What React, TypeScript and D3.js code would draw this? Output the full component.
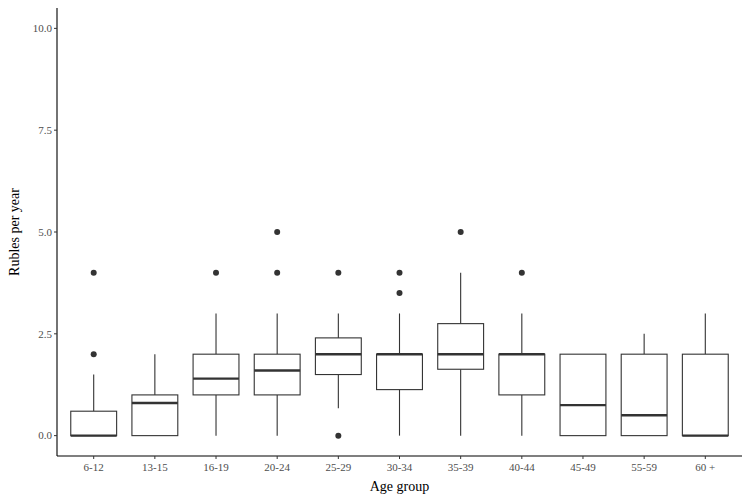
import * as React from 'react'
import * as d3 from 'd3'

// age groups and five-number summaries
const groups = ['6-12', '13-15', '16-19', '20-24', '25-29', '30-34', '35-39', '40-44', '45-49', '55-59', '60 +']
const whiskerLow = [0, 0, 0, 0, 0.67, 0, 0, 0, 0, 0, 0]
const q1 = [0, 0, 1, 1, 1.5, 1.13, 1.63, 1, 0, 0, 0]
const median = [0, 0.8, 1.4, 1.6, 2, 2, 2, 2, 0.75, 0.5, 0]
const q3 = [0.6, 1, 2, 2, 2.4, 2, 2.75, 2, 2, 2, 2]
const whiskerHigh = [1.5, 2, 3, 3, 3, 3, 4, 3, 2, 2.5, 3]
const outliers = [[2, 4], [], [4], [4, 5], [0, 4], [3.5, 4], [5], [4], [], [], []]
const yTicks = [0, 2.5, 5, 7.5, 10]

const W = 750
const H = 500
const left = 57
const right = 742
const top = 8
const bottom = 456

export default function App() {
  const x = d3.scaleBand().domain(groups).range([left, right]).paddingOuter(0.1).paddingInner(0)
  // ggplot style: discrete expansion of 0.6 units each side
  const step = (right - left) / (groups.length + 0.2)
  const cx = (i: number) => left + step * (0.6 + i)
  const y = d3.scaleLinear().domain([-0.5, 10.5]).range([bottom, top])
  const bw = step * 0.75
  const ink = '#333333'
  const font = '"Liberation Serif", "Times New Roman", serif'
  void x

  return (
    <svg width={W} height={H} style={{ position: 'absolute', left: 0, top: 0, background: '#fff' }} fontFamily={font}>
      <rect width={W} height={H} fill="#fff" />
      {groups.map((g, i) => {
        const c = cx(i)
        return (
          <g key={g}>
            <line x1={c} x2={c} y1={y(q3[i])} y2={y(whiskerHigh[i])} stroke={ink} strokeWidth={1.1} />
            <line x1={c} x2={c} y1={y(q1[i])} y2={y(whiskerLow[i])} stroke={ink} strokeWidth={1.1} />
            <rect x={c - bw / 2} y={y(q3[i])} width={bw} height={y(q1[i]) - y(q3[i])} fill="#fff" stroke={ink} strokeWidth={1.1} />
            <line x1={c - bw / 2} x2={c + bw / 2} y1={y(median[i])} y2={y(median[i])} stroke={ink} strokeWidth={2.4} />
            {outliers[i].map((v, j) => (
              <circle key={j} cx={c} cy={y(v)} r={3} fill={ink} />
            ))}
          </g>
        )
      })}
      <line x1={left} x2={left} y1={top} y2={bottom} stroke="#000" strokeWidth={1.1} />
      <line x1={left} x2={right} y1={bottom} y2={bottom} stroke="#000" strokeWidth={1.1} />
      {yTicks.map((t) => (
        <g key={t}>
          <line x1={left - 3} x2={left} y1={y(t)} y2={y(t)} stroke="#333" strokeWidth={1} />
          <text x={left - 5} y={y(t)} dy="0.35em" textAnchor="end" fontSize={11} fill="#4d4d4d">
            {d3.format('.1f')(t)}
          </text>
        </g>
      ))}
      {groups.map((g, i) => (
        <g key={g}>
          <line x1={cx(i)} x2={cx(i)} y1={bottom} y2={bottom + 3} stroke="#333" strokeWidth={1} />
          <text x={cx(i)} y={bottom + 15} textAnchor="middle" fontSize={11} fill="#4d4d4d">
            {g}
          </text>
        </g>
      ))}
      <text x={(left + right) / 2} y={491} textAnchor="middle" fontSize={14} fill="#000">
        Age group
      </text>
      <text transform={`translate(19,${(top + bottom) / 2}) rotate(-90)`} textAnchor="middle" fontSize={14} fill="#000">
        Rubles per year
      </text>
    </svg>
  )
}
